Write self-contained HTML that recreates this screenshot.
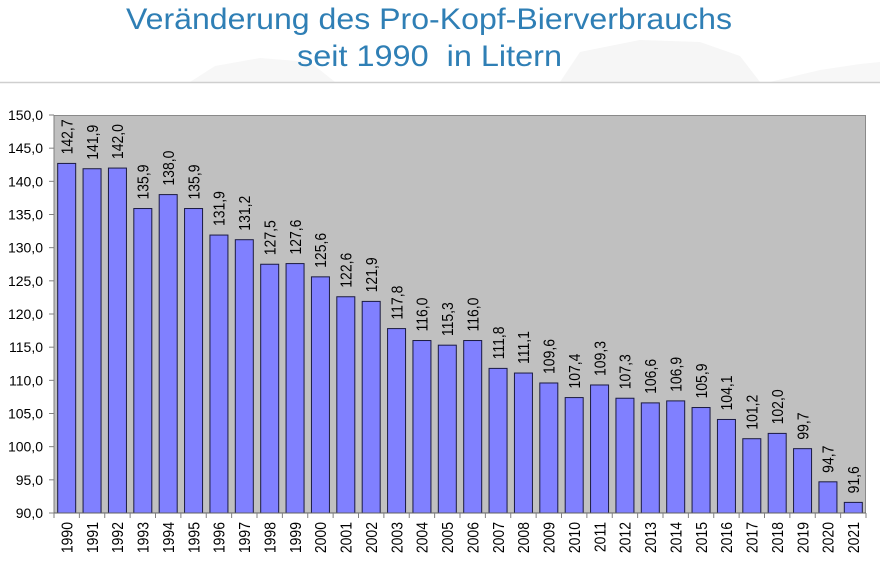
<!DOCTYPE html>
<html>
<head>
<meta charset="utf-8">
<style>
html,body{margin:0;padding:0;background:#fff;}
svg{display:block;}
text{font-family:"Liberation Sans",Arial,sans-serif;}
.t{fill:#2f7fb5;font-size:30px;white-space:pre;}
.n{font-size:14px;fill:#000;}
</style>
</head>
<body>
<svg width="880" height="563" viewBox="0 0 880 563" xmlns="http://www.w3.org/2000/svg">
<!-- faint watermark -->
<path d="M190 82 L215 66 L260 58 L310 62 L335 82 Z" fill="#f7f7f7"/>
<path d="M560 82 L580 52 L640 40 L700 42 L740 56 L760 82 Z" fill="#f6f6f6"/>
<path d="M770 82 L820 70 L860 64 L880 62 L880 82 Z" fill="#f7f7f7"/>
<!-- title -->
<text class="t" x="126" y="29" textLength="606" lengthAdjust="spacingAndGlyphs">Veränderung des Pro-Kopf-Bierverbrauchs</text>
<text class="t" x="297" y="66" textLength="265" lengthAdjust="spacingAndGlyphs">seit 1990  in Litern</text>
<line x1="0" y1="82.5" x2="880" y2="82.5" stroke="#cfcfcf" stroke-width="1.5"/>

<!-- plot area -->
<rect x="54" y="115" width="812" height="398" fill="#c0c0c0"/>
<line x1="54" y1="115.5" x2="866" y2="115.5" stroke="#8a8a8a" stroke-width="1"/>
<line x1="865.5" y1="115" x2="865.5" y2="513" stroke="#8a8a8a" stroke-width="1"/>

<!-- bars -->
<g fill="#8080ff" stroke="#1a1a40" stroke-width="1">
<rect x="57.69" y="163.42" width="18" height="349.58"/>
<rect x="83.06" y="168.73" width="18" height="344.27"/>
<rect x="108.44" y="168.07" width="18" height="344.93"/>
<rect x="133.81" y="208.53" width="18" height="304.47"/>
<rect x="159.19" y="194.6" width="18" height="318.4"/>
<rect x="184.56" y="208.53" width="18" height="304.47"/>
<rect x="209.94" y="235.06" width="18" height="277.94"/>
<rect x="235.31" y="239.71" width="18" height="273.29"/>
<rect x="260.69" y="264.25" width="18" height="248.75"/>
<rect x="286.06" y="263.59" width="18" height="249.41"/>
<rect x="311.44" y="276.85" width="18" height="236.15"/>
<rect x="336.81" y="296.75" width="18" height="216.25"/>
<rect x="362.19" y="301.4" width="18" height="211.6"/>
<rect x="387.56" y="328.59" width="18" height="184.41"/>
<rect x="412.94" y="340.53" width="18" height="172.47"/>
<rect x="438.31" y="345.18" width="18" height="167.82"/>
<rect x="463.69" y="340.53" width="18" height="172.47"/>
<rect x="489.06" y="368.39" width="18" height="144.61"/>
<rect x="514.44" y="373.04" width="18" height="139.96"/>
<rect x="539.81" y="382.99" width="18" height="130.01"/>
<rect x="565.19" y="397.58" width="18" height="115.42"/>
<rect x="590.56" y="384.98" width="18" height="128.02"/>
<rect x="615.94" y="398.24" width="18" height="114.76"/>
<rect x="641.31" y="402.89" width="18" height="110.11"/>
<rect x="666.69" y="400.9" width="18" height="112.1"/>
<rect x="692.06" y="407.53" width="18" height="105.47"/>
<rect x="717.44" y="419.47" width="18" height="93.53"/>
<rect x="742.81" y="438.71" width="18" height="74.29"/>
<rect x="768.19" y="433.4" width="18" height="79.6"/>
<rect x="793.56" y="448.66" width="18" height="64.34"/>
<rect x="818.94" y="481.82" width="18" height="31.18"/>
<rect x="844.31" y="502.39" width="18" height="10.61"/>
</g>

<!-- axes -->
<line x1="54" y1="115" x2="54" y2="513" stroke="#808080" stroke-width="1"/>
<line x1="54" y1="513" x2="866" y2="513" stroke="#606060" stroke-width="1"/>
<g stroke="#808080" stroke-width="1">
<line x1="49" y1="115" x2="54" y2="115"/>
<line x1="49" y1="148.17" x2="54" y2="148.17"/>
<line x1="49" y1="181.33" x2="54" y2="181.33"/>
<line x1="49" y1="214.5" x2="54" y2="214.5"/>
<line x1="49" y1="247.67" x2="54" y2="247.67"/>
<line x1="49" y1="280.83" x2="54" y2="280.83"/>
<line x1="49" y1="314" x2="54" y2="314"/>
<line x1="49" y1="347.17" x2="54" y2="347.17"/>
<line x1="49" y1="380.33" x2="54" y2="380.33"/>
<line x1="49" y1="413.5" x2="54" y2="413.5"/>
<line x1="49" y1="446.67" x2="54" y2="446.67"/>
<line x1="49" y1="479.83" x2="54" y2="479.83"/>
<line x1="49" y1="513" x2="54" y2="513"/>
</g>
<g stroke="#808080" stroke-width="1">
<line x1="54" y1="513" x2="54" y2="518"/>
<line x1="79.38" y1="513" x2="79.38" y2="518"/>
<line x1="104.75" y1="513" x2="104.75" y2="518"/>
<line x1="130.13" y1="513" x2="130.13" y2="518"/>
<line x1="155.5" y1="513" x2="155.5" y2="518"/>
<line x1="180.88" y1="513" x2="180.88" y2="518"/>
<line x1="206.25" y1="513" x2="206.25" y2="518"/>
<line x1="231.63" y1="513" x2="231.63" y2="518"/>
<line x1="257" y1="513" x2="257" y2="518"/>
<line x1="282.38" y1="513" x2="282.38" y2="518"/>
<line x1="307.75" y1="513" x2="307.75" y2="518"/>
<line x1="333.13" y1="513" x2="333.13" y2="518"/>
<line x1="358.5" y1="513" x2="358.5" y2="518"/>
<line x1="383.88" y1="513" x2="383.88" y2="518"/>
<line x1="409.25" y1="513" x2="409.25" y2="518"/>
<line x1="434.63" y1="513" x2="434.63" y2="518"/>
<line x1="460" y1="513" x2="460" y2="518"/>
<line x1="485.38" y1="513" x2="485.38" y2="518"/>
<line x1="510.75" y1="513" x2="510.75" y2="518"/>
<line x1="536.13" y1="513" x2="536.13" y2="518"/>
<line x1="561.5" y1="513" x2="561.5" y2="518"/>
<line x1="586.88" y1="513" x2="586.88" y2="518"/>
<line x1="612.25" y1="513" x2="612.25" y2="518"/>
<line x1="637.63" y1="513" x2="637.63" y2="518"/>
<line x1="663" y1="513" x2="663" y2="518"/>
<line x1="688.38" y1="513" x2="688.38" y2="518"/>
<line x1="713.75" y1="513" x2="713.75" y2="518"/>
<line x1="739.13" y1="513" x2="739.13" y2="518"/>
<line x1="764.5" y1="513" x2="764.5" y2="518"/>
<line x1="789.88" y1="513" x2="789.88" y2="518"/>
<line x1="815.25" y1="513" x2="815.25" y2="518"/>
<line x1="840.63" y1="513" x2="840.63" y2="518"/>
<line x1="866" y1="513" x2="866" y2="518"/>
</g>

<!-- y labels -->
<g text-anchor="end">
<text class="n" x="43" y="120">150,0</text>
<text class="n" x="43" y="153.17">145,0</text>
<text class="n" x="43" y="186.33">140,0</text>
<text class="n" x="43" y="219.5">135,0</text>
<text class="n" x="43" y="252.67">130,0</text>
<text class="n" x="43" y="285.83">125,0</text>
<text class="n" x="43" y="319">120,0</text>
<text class="n" x="43" y="352.17">115,0</text>
<text class="n" x="43" y="385.33">110,0</text>
<text class="n" x="43" y="418.5">105,0</text>
<text class="n" x="43" y="451.67">100,0</text>
<text class="n" x="43" y="484.83">95,0</text>
<text class="n" x="43" y="518">90,0</text>
</g>

<!-- x labels -->
<g text-anchor="end">
<text class="n" transform="translate(72.4,522) scale(1.15,1) rotate(-90)">1990</text>
<text class="n" transform="translate(97.76,522) scale(1.15,1) rotate(-90)">1991</text>
<text class="n" transform="translate(123.14,522) scale(1.15,1) rotate(-90)">1992</text>
<text class="n" transform="translate(148.51,522) scale(1.15,1) rotate(-90)">1993</text>
<text class="n" transform="translate(173.89,522) scale(1.15,1) rotate(-90)">1994</text>
<text class="n" transform="translate(199.26,522) scale(1.15,1) rotate(-90)">1995</text>
<text class="n" transform="translate(224.64,522) scale(1.15,1) rotate(-90)">1996</text>
<text class="n" transform="translate(250.01,522) scale(1.15,1) rotate(-90)">1997</text>
<text class="n" transform="translate(275.39,522) scale(1.15,1) rotate(-90)">1998</text>
<text class="n" transform="translate(300.76,522) scale(1.15,1) rotate(-90)">1999</text>
<text class="n" transform="translate(326.14,522) scale(1.15,1) rotate(-90)">2000</text>
<text class="n" transform="translate(351.51,522) scale(1.15,1) rotate(-90)">2001</text>
<text class="n" transform="translate(376.89,522) scale(1.15,1) rotate(-90)">2002</text>
<text class="n" transform="translate(402.26,522) scale(1.15,1) rotate(-90)">2003</text>
<text class="n" transform="translate(427.64,522) scale(1.15,1) rotate(-90)">2004</text>
<text class="n" transform="translate(453.01,522) scale(1.15,1) rotate(-90)">2005</text>
<text class="n" transform="translate(478.39,522) scale(1.15,1) rotate(-90)">2006</text>
<text class="n" transform="translate(503.76,522) scale(1.15,1) rotate(-90)">2007</text>
<text class="n" transform="translate(529.14,522) scale(1.15,1) rotate(-90)">2008</text>
<text class="n" transform="translate(554.51,522) scale(1.15,1) rotate(-90)">2009</text>
<text class="n" transform="translate(579.89,522) scale(1.15,1) rotate(-90)">2010</text>
<text class="n" transform="translate(605.26,522) scale(1.15,1) rotate(-90)">2011</text>
<text class="n" transform="translate(630.64,522) scale(1.15,1) rotate(-90)">2012</text>
<text class="n" transform="translate(656.01,522) scale(1.15,1) rotate(-90)">2013</text>
<text class="n" transform="translate(681.39,522) scale(1.15,1) rotate(-90)">2014</text>
<text class="n" transform="translate(706.76,522) scale(1.15,1) rotate(-90)">2015</text>
<text class="n" transform="translate(732.14,522) scale(1.15,1) rotate(-90)">2016</text>
<text class="n" transform="translate(757.51,522) scale(1.15,1) rotate(-90)">2017</text>
<text class="n" transform="translate(782.89,522) scale(1.15,1) rotate(-90)">2018</text>
<text class="n" transform="translate(808.26,522) scale(1.15,1) rotate(-90)">2019</text>
<text class="n" transform="translate(833.64,522) scale(1.15,1) rotate(-90)">2020</text>
<text class="n" transform="translate(859.01,522) scale(1.15,1) rotate(-90)">2021</text>
</g>

<!-- value labels -->
<g>
<text class="n" transform="translate(72.4,154.42) scale(1.15,1) rotate(-90)">142,7</text>
<text class="n" transform="translate(97.76,159.73) scale(1.15,1) rotate(-90)">141,9</text>
<text class="n" transform="translate(123.14,159.07) scale(1.15,1) rotate(-90)">142,0</text>
<text class="n" transform="translate(148.51,199.53) scale(1.15,1) rotate(-90)">135,9</text>
<text class="n" transform="translate(173.89,185.6) scale(1.15,1) rotate(-90)">138,0</text>
<text class="n" transform="translate(199.26,199.53) scale(1.15,1) rotate(-90)">135,9</text>
<text class="n" transform="translate(224.64,226.06) scale(1.15,1) rotate(-90)">131,9</text>
<text class="n" transform="translate(250.01,230.71) scale(1.15,1) rotate(-90)">131,2</text>
<text class="n" transform="translate(275.39,255.25) scale(1.15,1) rotate(-90)">127,5</text>
<text class="n" transform="translate(300.76,254.59) scale(1.15,1) rotate(-90)">127,6</text>
<text class="n" transform="translate(326.14,267.85) scale(1.15,1) rotate(-90)">125,6</text>
<text class="n" transform="translate(351.51,287.75) scale(1.15,1) rotate(-90)">122,6</text>
<text class="n" transform="translate(376.89,292.4) scale(1.15,1) rotate(-90)">121,9</text>
<text class="n" transform="translate(402.26,319.59) scale(1.15,1) rotate(-90)">117,8</text>
<text class="n" transform="translate(427.64,331.53) scale(1.15,1) rotate(-90)">116,0</text>
<text class="n" transform="translate(453.01,336.18) scale(1.15,1) rotate(-90)">115,3</text>
<text class="n" transform="translate(478.39,331.53) scale(1.15,1) rotate(-90)">116,0</text>
<text class="n" transform="translate(503.76,359.39) scale(1.15,1) rotate(-90)">111,8</text>
<text class="n" transform="translate(529.14,364.04) scale(1.15,1) rotate(-90)">111,1</text>
<text class="n" transform="translate(554.51,373.99) scale(1.15,1) rotate(-90)">109,6</text>
<text class="n" transform="translate(579.89,388.58) scale(1.15,1) rotate(-90)">107,4</text>
<text class="n" transform="translate(605.26,375.98) scale(1.15,1) rotate(-90)">109,3</text>
<text class="n" transform="translate(630.64,389.24) scale(1.15,1) rotate(-90)">107,3</text>
<text class="n" transform="translate(656.01,393.89) scale(1.15,1) rotate(-90)">106,6</text>
<text class="n" transform="translate(681.39,391.9) scale(1.15,1) rotate(-90)">106,9</text>
<text class="n" transform="translate(706.76,398.53) scale(1.15,1) rotate(-90)">105,9</text>
<text class="n" transform="translate(732.14,410.47) scale(1.15,1) rotate(-90)">104,1</text>
<text class="n" transform="translate(757.51,429.71) scale(1.15,1) rotate(-90)">101,2</text>
<text class="n" transform="translate(782.89,424.4) scale(1.15,1) rotate(-90)">102,0</text>
<text class="n" transform="translate(808.26,439.66) scale(1.15,1) rotate(-90)">99,7</text>
<text class="n" transform="translate(833.64,472.82) scale(1.15,1) rotate(-90)">94,7</text>
<text class="n" transform="translate(859.01,493.39) scale(1.15,1) rotate(-90)">91,6</text>
</g>
</svg>
</body>
</html>
